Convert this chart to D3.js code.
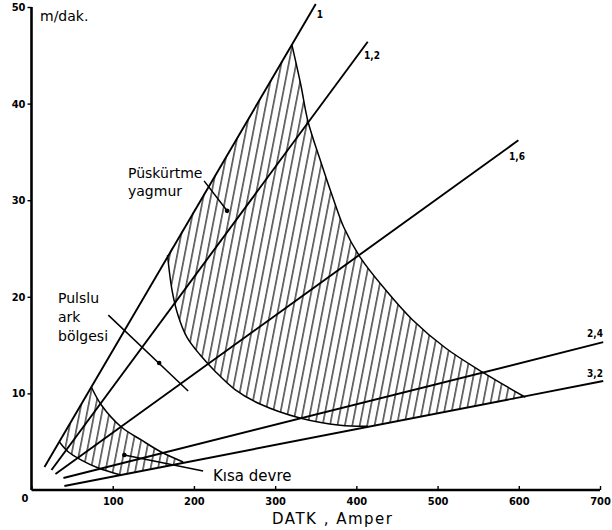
<!DOCTYPE html>
<html><head><meta charset="utf-8">
<script src="https://cdn.jsdelivr.net/npm/d3@7"></script>
<style>body{margin:0;background:#fff}svg{display:block}</style></head>
<body><svg id="c" width="612" height="530"></svg>
<script>
// ---- data (x: DATK, Amper ; y: m/dak.) ----
const xTicks = [0, 100, 200, 300, 400, 500, 600, 700];
const yTicks = [10, 20, 30, 40, 50];
const wireLabels = ["1", "1,2", "1,6", "2,4", "3,2"];
const wireStart = [[16, 2.38], [24.6, 2.07], [29.5, 1.66], [39.3, 1.24], [40.5, 0.41]];
const wireEnd = [[350, 50.3], [414, 46.4], [599.5, 36.2], [704, 15.3], [704, 11.28]];
const sprayRight = [[320.6, 46.1], [331.7, 41.9], [340.3, 38.2], [356.3, 33.95], [372.2, 30.0], [384.5, 27.2], [405.4, 24.0], [436.1, 20.7], [469.3, 17.6], [509.8, 14.7], [555.3, 12.2], [608.1, 9.6]];
const sprayLeft = [[167.5, 24.3], [173.0, 20.7], [180.4, 18.1], [191.5, 15.8], [207.5, 14.0], [226.0, 12.3], [250.6, 10.4], [281.4, 8.9], [330.6, 7.45], [380.0, 6.7], [414.3, 6.6]];
const shortRight = [[73.7, 10.66], [86, 8.8], [110.6, 6.52], [135.1, 5.18], [159.7, 3.93], [186.7, 2.9]];
const shortLeft = [[34.4, 4.97], [45.5, 3.93], [61.4, 3.1], [82.3, 2.28], [110, 1.55]];
const pointerPulse = [[94.6, 18.1], [192.9, 10.25]];
const dotPulse = [157.2, 13.15];
const pointerSpray = [[212.5, 32.0], [240.8, 28.9]];
const dotSpray = [240.8, 28.9];
const pointerShort = [[114.3, 3.62], [211.3, 1.97]];
const dotShort = [114.3, 3.62];

// ---- drawing ----
const svg = d3.select("#c");
const x = d3.scaleLinear().domain([0, 700]).range([31.5, 600]);
const y = d3.scaleLinear().domain([0, 50]).range([490, 7]);
const tickFont = "'Liberation Sans Narrow','DejaVu Sans Condensed',sans-serif";
const textFont = "'DejaVu Sans',sans-serif";

const defs = svg.append("defs");
const pat = defs.append("pattern").attr("id", "hatch")
  .attr("patternUnits", "userSpaceOnUse").attr("width", 7.3).attr("height", 40)
  .attr("patternTransform", "rotate(11)");
pat.append("line").attr("x1", 3.6).attr("y1", 0).attr("x2", 3.6).attr("y2", 40)
  .attr("stroke", "#000").attr("stroke-width", 1.1);

const curveGen = d3.line().x(d => x(d[0])).y(d => y(d[1])).curve(d3.curveCatmullRom.alpha(0.5));
const straight = d3.line().x(d => x(d[0])).y(d => y(d[1]));
function join(...paths) { return paths.map((p, i) => i === 0 ? p : p.replace(/^M/, "L")).join("") + "Z"; }

// hatched regions
svg.append("path").attr("d", join(curveGen(sprayRight), curveGen(sprayLeft.slice().reverse())))
  .attr("fill", "url(#hatch)");
svg.append("path").attr("d", join(curveGen(shortRight), curveGen(shortLeft.slice().reverse())))
  .attr("fill", "url(#hatch)");

// boundary curves
[sprayRight, sprayLeft, shortRight, shortLeft].forEach(c => {
  svg.append("path").attr("d", curveGen(c)).attr("fill", "none")
    .attr("stroke", "#000").attr("stroke-width", 1.5);
});

// wire lines
wireLabels.forEach((lab, i) => {
  svg.append("path").attr("d", straight([wireStart[i], wireEnd[i]]))
    .attr("stroke", "#000").attr("stroke-width", 1.9).attr("fill", "none");
});
const labPos = [[320, 18], [372, 59], [517, 160], [595, 337], [595, 377]];
wireLabels.forEach((lab, i) => {
  svg.append("text").attr("x", labPos[i][0]).attr("y", labPos[i][1])
    .attr("text-anchor", "middle").attr("font-family", tickFont).attr("font-weight", "bold")
    .attr("font-size", 10).text(lab);
});

// axes
const gx = svg.append("g").attr("transform", `translate(0,${y(0)})`)
  .call(d3.axisBottom(x).tickValues(xTicks).tickSize(-4).tickPadding(7).tickFormat(d => d === 0 ? "" : d));
const gy = svg.append("g").attr("transform", `translate(${x(0)},0)`)
  .call(d3.axisLeft(y).tickValues(yTicks).tickSize(4).tickPadding(2));
[gx, gy].forEach(g => {
  g.select(".domain").attr("stroke-width", 2.6).attr("stroke", "#000");
  g.selectAll(".tick line").attr("stroke-width", 1.4);
  g.selectAll(".tick text").attr("font-family", tickFont).attr("font-weight", "bold")
    .attr("font-size", 11).attr("fill", "#000");
});
gx.select(".domain").attr("d", `M${x(0)},0H${x(700)}`);
gy.select(".domain").attr("d", `M0,${y(0)}V${y(50)}`);
svg.append("text").attr("x", 25).attr("y", 502).attr("text-anchor", "middle")
  .attr("font-family", tickFont).attr("font-weight", "bold").attr("font-size", 11).text("0");

// pointers
[pointerPulse, pointerSpray, pointerShort].forEach(p => {
  svg.append("path").attr("d", straight(p)).attr("stroke", "#000").attr("stroke-width", 1.5);
});
[dotPulse, dotSpray, dotShort].forEach(d => {
  svg.append("circle").attr("cx", x(d[0])).attr("cy", y(d[1])).attr("r", 2.3).attr("fill", "#000");
});

// texts
function txt(s, px, py, size, extra) {
  const t = svg.append("text").attr("x", px).attr("y", py).attr("font-family", textFont)
    .attr("font-size", size).attr("fill", "#000").text(s);
  if (extra) extra(t);
  return t;
}
txt("m/dak.", 40, 21, 14);
txt("Püskürtme", 128, 178, 14);
txt("yagmur", 128, 196, 14);
txt("Pulslu", 58, 303, 14);
txt("ark", 58, 322, 14);
txt("bölgesi", 58, 341, 14);
txt("Kısa devre", 213, 481, 15);
txt("DATK , Amper", 272, 524, 15, t => t.attr("letter-spacing", 1.5));
</script></body></html>
